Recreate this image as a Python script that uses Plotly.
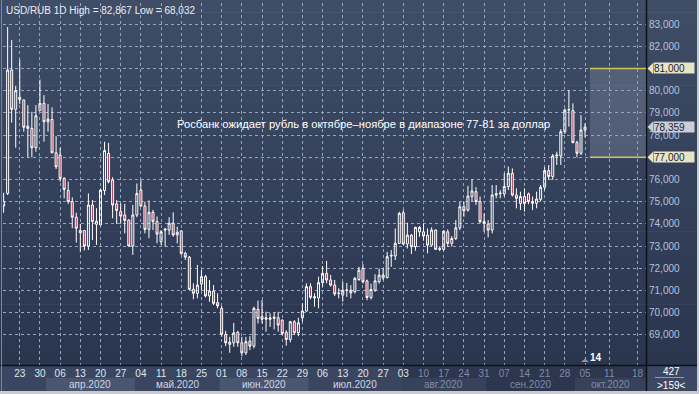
import pandas as pd
import plotly.graph_objects as go

# ---------------- data ----------------
dates = [d.strftime("%Y-%m-%d") for d in pd.bdate_range("2020-03-17", "2020-10-05")]
future_days = [d.strftime("%Y-%m-%d") for d in pd.date_range("2020-10-06", "2020-10-20")]

open_ = [75.0, 75.37, 80.93, 79.16, 79.6, 79.58, 78.4, 78.3, 77.43, 79.1,
         79.43, 78.6, 78.7, 77.2, 77.1, 76.05, 75.5, 75.0, 74.3, 73.7,
         73.7, 73.0, 74.85, 73.98, 73.95, 75.5, 77.17, 75.97, 74.9, 74.55,
         74.4, 74.17, 73.0, 74.4, 75.52, 74.8, 73.75, 74.52, 74.1, 73.2,
         73.72, 73.72, 74.03, 73.5, 73.68, 72.67, 72.5, 71.05, 70.87, 71.29,
         71.62, 70.75, 70.97, 70.45, 70.19, 69.02, 68.57, 68.64, 69.11, 68.64,
         68.19, 68.72, 68.49, 70.15, 69.82, 69.7, 69.7, 69.74, 69.77, 69.66,
         69.11, 68.79, 69.59, 69.09, 69.77, 70.07, 71.17, 70.72, 70.66, 71.35,
         71.77, 71.47, 71.24, 70.87, 70.79, 71.0, 71.01, 70.94, 71.49, 71.99,
         71.43, 70.68, 71.01, 71.39, 71.57, 71.58, 72.55, 72.55, 73.12, 74.5,
         73.09, 73.49, 72.97, 73.64, 73.64, 73.49, 73.04, 73.72, 72.9, 72.85,
         73.64, 73.12, 73.34, 73.82, 74.77, 74.62, 75.23, 75.45, 75.0, 74.1,
         73.99, 73.72, 75.3, 75.36, 75.35, 75.68, 76.28, 75.3, 74.92, 75.23,
         75.35, 75.0, 74.93, 75.1, 75.65, 76.4, 76.13, 77.06, 77.06, 78.15,
         79.13, 79.1, 77.66, 77.18, 78.23]
high = [75.4, 82.87, 82.28, 80.22, 81.4, 79.6, 79.35, 79.05, 79.35, 80.5,
        79.8, 79.4, 79.25, 77.95, 77.43, 76.1, 75.9, 75.2, 74.5, 74.0,
        73.7, 75.37, 75.07, 74.7, 75.6, 77.7, 77.65, 76.1, 75.07, 74.92,
        74.9, 74.2, 74.85, 75.82, 75.97, 75.0, 75.05, 74.63, 74.33, 73.72,
        73.8, 74.3, 74.52, 73.87, 73.72, 72.75, 72.55, 71.32, 72.15, 71.92,
        71.7, 71.47, 71.24, 70.87, 70.3, 69.18, 68.91, 69.54, 69.18, 68.91,
        68.91, 68.94, 70.27, 70.54, 70.57, 70.04, 69.97, 70.01, 70.04, 69.7,
        69.21, 69.63, 69.66, 69.77, 70.42, 71.32, 71.32, 70.87, 71.62, 72.1,
        72.33, 71.7, 71.47, 71.1, 71.39, 71.34, 71.24, 71.61, 72.06, 72.18,
        71.49, 71.31, 71.73, 71.99, 71.99, 72.74, 72.82, 73.79, 74.54, 74.62,
        74.05, 73.54, 73.87, 73.9, 74.02, 73.79, 73.84, 73.75, 72.99, 73.72,
        73.75, 73.45, 74.17, 74.99, 74.99, 75.71, 76.01, 75.65, 75.23, 74.47,
        74.17, 75.75, 75.75, 75.52, 76.28, 76.58, 76.5, 75.6, 75.45, 75.6,
        75.41, 75.23, 75.45, 75.75, 76.55, 76.65, 77.15, 77.25, 78.26, 79.2,
        80.03, 79.43, 77.75, 78.9, 78.53]
low = [74.5, 75.3, 78.56, 77.43, 79.4, 78.15, 77.0, 77.0, 77.25, 79.1,
       77.7, 78.15, 77.2, 76.47, 75.9, 75.15, 74.9, 73.8, 73.15, 72.75,
       72.8, 72.82, 73.27, 73.05, 73.95, 75.3, 75.82, 74.25, 74.0, 74.0,
       73.57, 72.97, 72.6, 74.3, 74.77, 73.57, 73.35, 73.72, 73.12, 73.05,
       72.97, 73.5, 73.42, 73.12, 72.6, 72.37, 71.02, 70.6, 70.64, 71.02,
       70.69, 70.49, 70.34, 70.19, 68.91, 68.49, 68.19, 68.46, 68.46, 68.03,
       68.09, 68.31, 68.39, 69.51, 69.51, 69.14, 69.36, 69.24, 69.14, 68.99,
       68.51, 68.66, 68.99, 68.94, 69.59, 70.04, 70.6, 70.27, 70.19, 71.17,
       71.32, 71.17, 70.75, 70.64, 70.49, 70.71, 70.64, 70.86, 71.43, 71.31,
       70.56, 70.59, 70.94, 71.31, 71.46, 71.54, 72.06, 72.37, 73.09, 73.04,
       72.89, 72.64, 72.79, 73.42, 73.24, 72.67, 72.97, 72.82, 72.77, 72.79,
       72.97, 72.97, 73.27, 73.72, 74.32, 74.55, 75.0, 74.85, 74.02, 73.65,
       73.39, 73.57, 75.15, 75.15, 75.23, 75.52, 75.23, 74.7, 74.62, 74.55,
       74.89, 74.62, 74.7, 75.0, 75.52, 75.98, 75.98, 76.65, 76.65, 78.05,
       78.38, 77.63, 77.0, 77.1, 77.9]
close = [74.8, 80.93, 79.16, 80.0, 79.7, 78.35, 78.3, 77.43, 78.87, 79.43,
         78.6, 78.72, 77.2, 76.57, 76.05, 75.55, 75.0, 74.3, 73.8, 73.6,
         73.0, 74.85, 74.1, 74.12, 75.52, 77.3, 75.9, 74.85, 74.6, 74.35,
         74.15, 73.0, 74.4, 75.37, 74.8, 73.75, 74.52, 74.1, 73.54, 73.65,
         73.76, 74.03, 73.5, 73.62, 72.67, 72.5, 71.05, 70.87, 71.24, 71.62,
         70.75, 70.97, 70.42, 70.3, 69.02, 68.64, 68.67, 69.09, 68.64, 68.19,
         68.69, 68.49, 70.19, 69.74, 69.7, 69.77, 69.76, 69.8, 69.44, 69.06,
         68.79, 69.59, 69.09, 69.54, 70.07, 71.17, 70.69, 70.66, 71.35, 71.77,
         71.47, 71.24, 70.84, 70.87, 71.01, 71.02, 70.89, 71.54, 71.91, 71.39,
         70.68, 71.04, 71.43, 71.69, 71.69, 72.52, 72.58, 73.12, 74.47, 73.09,
         73.49, 72.97, 73.84, 73.84, 73.45, 73.04, 73.72, 72.85, 72.85, 73.67,
         73.12, 73.34, 73.82, 74.77, 74.59, 75.25, 75.48, 75.0, 74.1, 74.02,
         73.72, 75.3, 75.35, 75.38, 75.68, 76.28, 75.3, 75.15, 75.23, 74.92,
         75.0, 74.93, 75.12, 75.65, 76.4, 76.13, 77.06, 77.1, 78.15, 79.13,
         79.15, 77.66, 77.18, 78.23, 78.359]

y_ticks = [69, 70, 71, 72, 73, 74, 75, 76, 77, 78, 79, 80, 81, 82, 83]
y_tick_labels = ["69,000", "70,000", "71,000", "72,000", "73,000", "74,000", "75,000",
                 "76,000", "77,000", "78,000", "79,000", "80,000", "81,000", "82,000", "83,000"]
future_ticks = ["2020-10-11", "2020-10-18"]
dim_from = "2020-08-03"
months = ["2020-04", "2020-05", "2020-06", "2020-07", "2020-08", "2020-09", "2020-10"]
month_labels = ["апр.2020", "май.2020", "июн.2020", "июл.2020", "авг.2020", "сен.2020", "окт.2020"]
header = "USD/RUB 1D High = 82,867 Low = 68,032"
note = "Росбанк ожидает рубль в октябре–ноябре в диапазоне 77-81 за доллар"
range_low, range_high = 77.0, 81.0
range_low_label, range_high_label = "77,000", "81,000"
last_label = "78,359"
marker_label = "14"
box_top, box_bottom = "427", ">159<"

# ---------------- geometry helpers (pixels -> paper) ----------------
W, H = 699, 394
PL, PR, PT, PB = 3, 646, 3, 365
def fx(px):
    return (px - PL) / (PR - PL)
def fy(py):
    return (PB - py) / (PB - PT)

FONT = "Liberation Sans, Arial, sans-serif"
cats = dates + future_days
x_end = len(cats) - 1 + 0.1
ypx = 22.2  # pixels per unit

fig = go.Figure()
fig.add_trace(go.Candlestick(
    x=dates, open=open_, high=high, low=low, close=close,
    increasing=dict(line=dict(color="#ffffff", width=1), fillcolor="rgba(0,0,0,0)"),
    decreasing=dict(line=dict(color="#ffffff", width=1), fillcolor="#a8344e"),
    whiskerwidth=0, showlegend=False, hoverinfo="skip",
))

shapes = []
# gradient background (plot + right panel)
N = 30
top_c, bot_c = (63, 77, 103), (42, 53, 78)
for k in range(N):
    t = (k + 0.5) / N
    c = tuple(int(round(top_c[j] + (bot_c[j] - top_c[j]) * t)) for j in range(3))
    y0 = PB * k / N
    y1 = PB * (k + 1) / N
    shapes.append(dict(type="rect", xref="paper", yref="paper", layer="below",
                       x0=fx(0), x1=fx(697), y0=fy(y1 + 0.6), y1=fy(y0),
                       fillcolor="rgb(%d,%d,%d)" % c, line=dict(width=0)))
# bottom axis strip
shapes.append(dict(type="rect", xref="paper", yref="paper", layer="below",
                   x0=fx(0), x1=fx(697), y0=fy(391), y1=fy(PB),
                   fillcolor="#3a4560", line=dict(width=0)))
# dim part of bottom strip
i_dim = dates.index(dim_from)
shapes.append(dict(type="rect", xref="x", yref="paper", layer="below",
                   x0=i_dim, x1=x_end, y0=fy(391), y1=fy(PB),
                   fillcolor="#2c364e", line=dict(width=0)))
# month bands
for m_i, (m, lab) in enumerate(zip(months, month_labels)):
    idx = [i for i, d in enumerate(dates) if d.startswith(m)]
    a = idx[0] - 0.5
    b = idx[-1] + 0.5 if m != months[-1] else x_end
    dim = dates[idx[0]] >= dim_from
    if m_i % 2 == 0:
        col = "#37415a" if dim else "#4a556f"
        shapes.append(dict(type="rect", xref="x", yref="paper", layer="below",
                           x0=a, x1=b, y0=fy(391), y1=fy(378),
                           fillcolor=col, line=dict(width=0)))
    fig.add_annotation(x=(a + b) / 2, y=fy(384.5), xref="x", yref="paper",
                       text=lab, showarrow=False, xanchor="center", yanchor="middle",
                       font=dict(family=FONT, size=10,
                                 color="#7f8ca6" if dim else "#cfd7e6"))
# right-bottom box
shapes.append(dict(type="rect", xref="paper", yref="paper", layer="below",
                   x0=fx(646), x1=fx(697), y0=fy(391), y1=fy(PB),
                   fillcolor="#3c4863", line=dict(width=0)))
shapes.append(dict(type="line", xref="paper", yref="paper", layer="above",
                   x0=fx(655), x1=fx(684), y0=fy(377.5), y1=fy(377.5),
                   line=dict(color="#8d99b0", width=1)))
# separators
shapes.append(dict(type="line", xref="paper", yref="paper", layer="above",
                   x0=fx(646.5), x1=fx(646.5), y0=fy(391), y1=fy(0),
                   line=dict(color="#0d1118", width=1.5)))
shapes.append(dict(type="line", xref="paper", yref="paper", layer="above",
                   x0=fx(0), x1=fx(697), y0=fy(365.5), y1=fy(365.5),
                   line=dict(color="#0d1118", width=1.5)))
shapes.append(dict(type="line", xref="paper", yref="paper", layer="above",
                   x0=fx(1.5), x1=fx(1.5), y0=fy(391), y1=fy(0),
                   line=dict(color="#7786a3", width=1)))
# target range
x_start = len(dates) + 0.2
shapes.append(dict(type="rect", xref="x", yref="y", layer="above",
                   x0=x_start, x1=x_end, y0=range_low, y1=range_high,
                   fillcolor="rgba(150,160,180,0.28)", line=dict(width=0)))
for v in (range_low, range_high):
    shapes.append(dict(type="line", xref="x", yref="y", layer="above",
                       x0=x_start, x1=x_end, y0=v, y1=v,
                       line=dict(color="#c9c94c", width=1.5)))
# price tags (they cover the axis labels at the same level)
tags = [(range_high, range_high_label, "#e6e6c6"),
        (range_low, range_low_label, "#e6e6c6"),
        (close[-1], last_label, "#c9ced8")]
hh = 5.5 / ypx
for v, lab, col in tags:
    shapes.append(dict(type="path", xref="paper", yref="y", layer="above",
                       path="M %f,%f L %f,%f L %f,%f Z" % (fx(647.5), v, fx(653), v + hh, fx(653), v - hh),
                       fillcolor=col, line=dict(width=0)))
    fig.add_annotation(x=fx(652.5), y=v, xref="paper", yref="y", text=lab,
                       showarrow=False, xanchor="left", yanchor="middle",
                       bgcolor=col, width=40, height=10, borderpad=0, align="left",
                       font=dict(family=FONT, size=10, color="#1b2233"))
covered = {range_low, range_high}
y_text_shown = ["" if v in covered else t for v, t in zip(y_ticks, y_tick_labels)]

# small marker near "14"
shapes.append(dict(type="path", xref="paper", yref="paper", layer="above",
                   path="M %f,%f L %f,%f L %f,%f Z" % (fx(581), fy(362), fx(585), fy(358.5), fx(589), fy(362)),
                   fillcolor="#8b93a4", line=dict(width=0)))

# texts
fig.add_annotation(x=fx(4), y=fy(10.5), xref="paper", yref="paper", text=header,
                   showarrow=False, xanchor="left", yanchor="middle",
                   font=dict(family=FONT, size=10, color="#e9edf5"))
fig.add_annotation(x=fx(363), y=fy(124), xref="paper", yref="paper", text=note,
                   showarrow=False, xanchor="center", yanchor="middle",
                   font=dict(family=FONT, size=11.2, color="#ffffff"))
fig.add_annotation(x=fx(596), y=fy(357), xref="paper", yref="paper", text="<b>%s</b>" % marker_label,
                   showarrow=False, xanchor="center", yanchor="middle",
                   font=dict(family=FONT, size=10, color="#ffffff"))
fig.add_annotation(x=fx(671), y=fy(371.5), xref="paper", yref="paper", text=box_top,
                   showarrow=False, xanchor="center", yanchor="middle",
                   font=dict(family=FONT, size=10, color="#ffffff"))
fig.add_annotation(x=fx(671), y=fy(385.5), xref="paper", yref="paper", text=box_bottom,
                   showarrow=False, xanchor="center", yanchor="middle",
                   font=dict(family=FONT, size=10, color="#ffffff"))

# x ticks: Mondays of the trading period + future ticks
tickvals = [d for d in dates if pd.Timestamp(d).weekday() == 0] + future_ticks
ticktext = []
for d in tickvals:
    day = d[-2:]
    if d > dim_from:
        ticktext.append('<span style="color:#7f8ca6">%s</span>' % day)
    else:
        ticktext.append(day)

grid_col = "#94a4c4"
fig.update_layout(
    width=W, height=H,
    margin=dict(l=PL, r=W - PR, t=PT, b=H - PB),
    paper_bgcolor="#c9cbcf", plot_bgcolor="rgba(0,0,0,0)",
    shapes=shapes, hovermode=False, showlegend=False,
    font=dict(family=FONT),
    xaxis=dict(type="category", categoryorder="array", categoryarray=cats,
               range=[-0.15, x_end], rangeslider=dict(visible=False),
               tickmode="array", tickvals=tickvals, ticktext=ticktext,
               showgrid=True, gridcolor=grid_col, griddash="3px,3px", gridwidth=1,
               ticks="", showline=False, zeroline=False, fixedrange=True,
               tickfont=dict(family=FONT, size=10, color="#dfe5ef"),
               ticklabelstandoff=1),
    yaxis=dict(side="right", range=[67.64, 83.95], tickmode="array",
               tickvals=y_ticks, ticktext=y_text_shown,
               showgrid=True, gridcolor=grid_col, griddash="3px,3px", gridwidth=1,
               ticks="", showline=False, zeroline=False, fixedrange=True,
               tickfont=dict(family=FONT, size=10, color="#b3c3dd"),
               ticklabelstandoff=2),
)

fig.write_html("out.html", config={"displayModeBar": False},
               post_script="document.body.style.margin='0px';document.body.style.overflow='hidden';")
